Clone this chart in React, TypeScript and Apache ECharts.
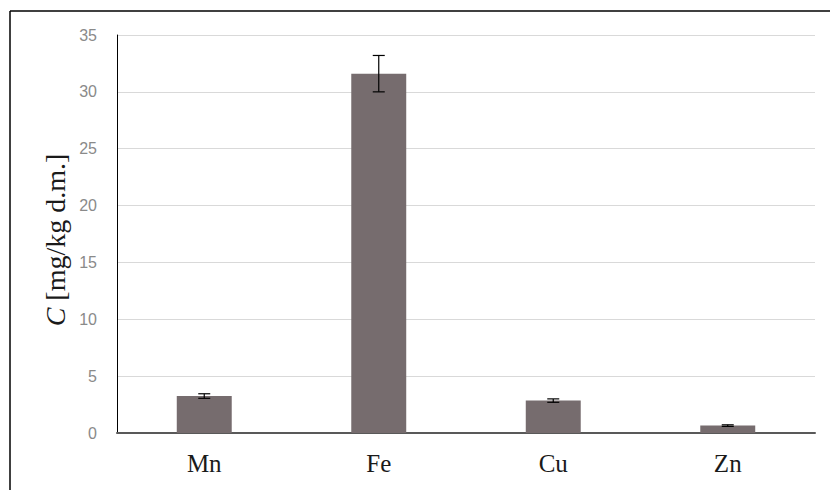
import React, { useEffect, useRef } from "react";
import * as echarts from "echarts";

const categories = ["Mn", "Fe", "Cu", "Zn"];
const means = [3.25, 31.6, 2.85, 0.65];
const errors = [0.2, 1.6, 0.15, 0.07];
const yTitle = "[mg/kg d.m.]";

const SERIF = "Liberation Serif";

export default function App() {
  const ref = useRef<HTMLDivElement>(null);
  useEffect(() => {
    if (!ref.current) return;
    const chart = echarts.init(ref.current, null, { renderer: "svg" });
    const errData = categories.map((c, i) => [i, means[i] - errors[i], means[i] + errors[i]]);
    chart.setOption({
      animation: false,
      backgroundColor: "#ffffff",
      grid: { left: 117, right: 15, top: 35, bottom: 57, containLabel: false },
      xAxis: {
        type: "category",
        data: categories,
        axisLine: { lineStyle: { color: "#595959", width: 2 } },
        axisTick: { show: false },
        axisLabel: {
          fontFamily: "serif",
          fontSize: 25,
          color: "#1a1a1a",
          margin: 18,
        },
      },
      yAxis: {
        type: "value",
        min: 0,
        max: 35,
        interval: 5,
        axisLine: { show: true, lineStyle: { color: "#000000", width: 1 } },
        axisTick: { show: false },
        splitLine: { lineStyle: { color: "#d9d9d9", width: 1 } },
        axisLabel: {
          fontFamily: "Liberation Sans",
          fontSize: 16,
          color: "#8a8a8a",
          margin: 20,
        },
      },
      series: [
        {
          type: "bar",
          data: means,
          barWidth: "31.5%",
          itemStyle: { color: "#766c6e" },
          z: 2,
        },
        {
          type: "custom",
          data: errData,
          z: 5,
          renderItem: (params: any, api: any) => {
            const x = api.value(0);
            const lo = api.coord([x, api.value(1)]);
            const hi = api.coord([x, api.value(2)]);
            const hw = 6;
            const style = { stroke: "#000000", lineWidth: 1.2 };
            return {
              type: "group",
              children: [
                { type: "line", shape: { x1: lo[0], y1: lo[1], x2: hi[0], y2: hi[1] }, style },
                { type: "line", shape: { x1: lo[0] - hw, y1: lo[1], x2: lo[0] + hw, y2: lo[1] }, style },
                { type: "line", shape: { x1: hi[0] - hw, y1: hi[1], x2: hi[0] + hw, y2: hi[1] }, style },
              ],
            };
          },
        },
      ],
      graphic: [
        { type: "line", shape: { x1: 10, y1: 11, x2: 830, y2: 11 }, style: { stroke: "#000", lineWidth: 1.5 } },
        { type: "line", shape: { x1: 10, y1: 11, x2: 10, y2: 490 }, style: { stroke: "#000", lineWidth: 1.5 } },
        {
          type: "text",
          x: 55,
          y: 240,
          rotation: Math.PI / 2,
          style: {
            text: "{i|C} " + yTitle,
            rich: {
              i: { fontFamily: SERIF, fontStyle: "italic", fontSize: 28, fill: "#1a1a1a" },
            },
            fontFamily: SERIF,
            fontSize: 28,
            fill: "#1a1a1a",
            align: "center",
            verticalAlign: "middle",
          },
        },
      ],
    });
    return () => chart.dispose();
  }, []);
  return (
    <div
      ref={ref}
      style={{ position: "fixed", left: 0, top: 0, width: 830, height: 490 }}
    />
  );
}
